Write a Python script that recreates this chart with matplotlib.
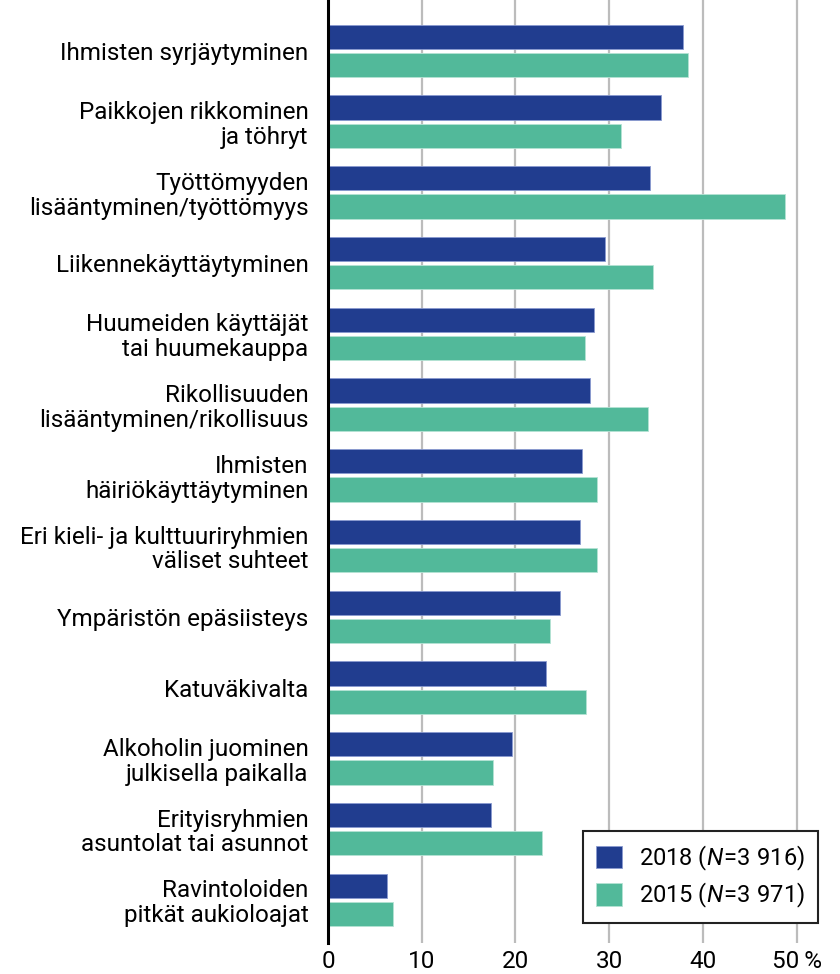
import matplotlib
matplotlib.use("Agg")
import matplotlib.pyplot as plt
import numpy as np

CATEGORIES = [
    "Ihmisten syrjäytyminen",
    "Paikkojen rikkominen\nja töhryt",
    "Työttömyyden\nlisääntyminen/työttömyys",
    "Liikennekäyttäytyminen",
    "Huumeiden käyttäjät\ntai huumekauppa",
    "Rikollisuuden\nlisääntyminen/rikollisuus",
    "Ihmisten\nhäiriökäyttäytyminen",
    "Eri kieli- ja kulttuuriryhmien\nväliset suhteet",
    "Ympäristön epäsiisteys",
    "Katuväkivalta",
    "Alkoholin juominen\njulkisella paikalla",
    "Erityisryhmien\nasuntolat tai asunnot",
    "Ravintoloiden\npitkät aukioloajat",
]
VALUES_2018 = [37.9, 35.5, 34.4, 29.6, 28.4, 28.0, 27.1, 26.9, 24.8, 23.3, 19.6, 17.4, 6.3]
VALUES_2015 = [38.4, 31.3, 48.8, 34.7, 27.4, 34.1, 28.7, 28.7, 23.7, 27.5, 17.6, 22.8, 6.9]
XTICKS = [0, 10, 20, 30, 40, 50]
XTICK_LABELS = ["0", "10", "20", "30", "40", "50\u2009%"]
LABEL_2018 = r"2018 ($\mathit{N}\!=\!\mathit{3\ 916}$)"
LABEL_2015 = r"2015 ($\mathit{N}\!=\!\mathit{3\ 971}$)"

C_2018 = "#213d8f"
C_2015 = "#52b99a"

plt.rcParams["font.family"] = ["Roboto", "DejaVu Sans"]
plt.rcParams["mathtext.fontset"] = "custom"
plt.rcParams["mathtext.it"] = "Roboto:italic"
plt.rcParams["mathtext.rm"] = "Roboto"

fig = plt.figure(figsize=(8.4, 9.74), dpi=100)
ax = fig.add_axes([328 / 840, 1 - 943 / 974, (820 - 328) / 840, 943 / 974])

y = np.arange(len(CATEGORIES))
h = 0.344
off = 0.2
ax.barh(y - off, VALUES_2018, height=h, color=C_2018, edgecolor="#8a9ad0",
        linewidth=0.6, label=LABEL_2018, zorder=3)
ax.barh(y + off, VALUES_2015, height=h, color=C_2015, edgecolor="#b5e3d4",
        linewidth=0.6, label=LABEL_2015, zorder=3)

ax.set_xlim(0, 52.5)
ax.set_ylim(12.61, -0.72)
ax.set_yticks(y)
ax.set_yticklabels(CATEGORIES, fontsize=17.5, linespacing=1.1)
ax.set_xticks(XTICKS)
ax.set_xticklabels(XTICK_LABELS, fontsize=17.5)
ax.tick_params(axis="both", length=0)
ax.tick_params(axis="y", pad=14)
ax.tick_params(axis="x", pad=5)

for s in ("top", "right", "bottom"):
    ax.spines[s].set_visible(False)
ax.spines["left"].set_linewidth(2.2)
ax.spines["left"].set_color("black")
ax.spines["left"].set_zorder(5)

ax.grid(True, axis="x", color="#bcbcbc", linewidth=1.6, zorder=0)
ax.set_axisbelow(True)

leg = ax.legend(loc="lower right", bbox_to_anchor=(818 / 840, 1 - 923 / 974),
                bbox_transform=fig.transFigure, fontsize=17, frameon=True,
                fancybox=False, handlelength=1.1, handleheight=1.1,
                handletextpad=0.7, labelspacing=0.35, borderpad=0.55,
                borderaxespad=0)
leg.get_frame().set_edgecolor("#222222")
leg.get_frame().set_linewidth(1.5)
leg.get_frame().set_alpha(1)

fig.savefig("out.png", dpi=100)
